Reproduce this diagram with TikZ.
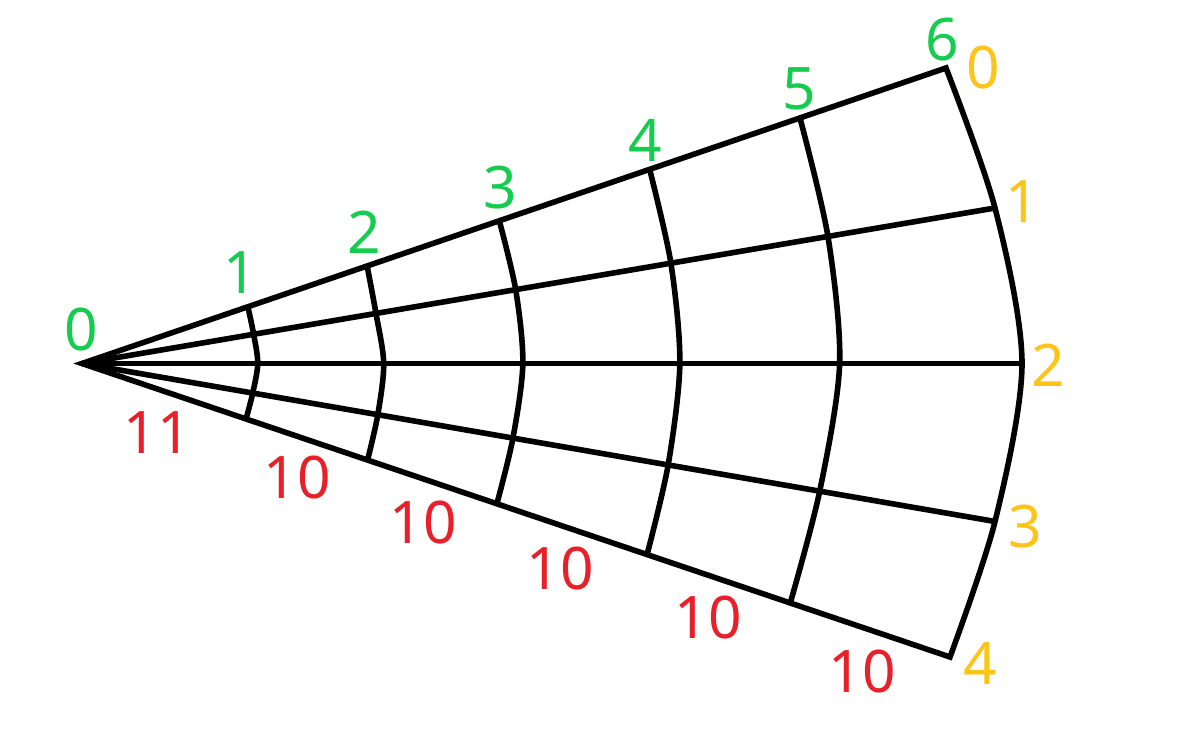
\documentclass[tikz,border=0pt]{standalone}
\usepackage{fontspec}
\setmainfont{Noto Sans}
\usetikzlibrary{calc}
\definecolor{lblgreen}{RGB}{20,204,78}
\definecolor{lblred}{RGB}{232,32,42}
\definecolor{lblyellow}{RGB}{255,196,24}
\begin{document}
\begin{tikzpicture}[x=0.75pt,y=-0.75pt,
  grid/.style={draw=black,line width=4.2pt},
  lbl/.style={font=\fontsize{44}{44}\selectfont,inner sep=0pt},
  gl/.style={lbl,text=lblgreen},
  rl/.style={lbl,text=lblred},
  yl/.style={lbl,text=lblyellow}]
\useasboundingbox (0,0) rectangle (1186,752);
\coordinate (O) at (82,363.5);
\coordinate (E0) at (946,68);
\coordinate (E1) at (995,208);
\coordinate (E2) at (1022,363.5);
\coordinate (E3) at (995,521.5);
\coordinate (E4) at (950,657);
% inner arcs: fractions along each of the five rays
\foreach \k/\fa/\fb/\fc/\fd/\fe in {1/0.192/0.188/0.187/0.187/0.189,
  2/0.330/0.322/0.321/0.324/0.329,
  3/0.483/0.475/0.469/0.472/0.478,
  4/0.657/0.645/0.636/0.642/0.651,
  5/0.831/0.817/0.806/0.808/0.816}{
  \coordinate (A\k0) at ($(O)!\fa!(E0)$);
  \coordinate (A\k1) at ($(O)!\fb!(E1)$);
  \coordinate (A\k2) at ($(O)!\fc!(E2)$);
  \coordinate (A\k3) at ($(O)!\fd!(E3)$);
  \coordinate (A\k4) at ($(O)!\fe!(E4)$);
  \draw[grid] plot[smooth] coordinates {(A\k0) (A\k1) (A\k2) (A\k3) (A\k4)};
}
% rays
\draw[grid] (O) -- (E1);
\draw[grid] (O) -- (E2);
\draw[grid] (O) -- (E3);
% outline
\draw[grid] (O) -- (E0) -- plot[smooth] coordinates {(E0) (E1) (E2) (E3) (E4)} -- cycle;
% green labels
\node[gl] (g0) at (81,330) {0};
\node[gl] (g1) at (240,273) {1};
\node[gl] (g2) at (364,232) {2};
\node[gl] (g3) at (500,188) {3};
\node[gl] (g4) at (645,140) {4};
\node[gl] (g5) at (799,89) {5};
\node[gl] (g6) at (942,40) {6};
% yellow labels
\node[yl] (y0) at (983,68) {0};
\node[yl] (y1) at (1022,202) {1};
\node[yl] (y2) at (1048,365) {2};
\node[yl] (y3) at (1025,527) {3};
\node[yl] (y4) at (980,663) {4};
% red labels
\node[rl] (r1) at (157,433) {11};
\node[rl] (r2) at (297,478) {10};
\node[rl] (r3) at (423,523) {10};
\node[rl] (r4) at (560,569) {10};
\node[rl] (r5) at (708,618) {10};
\node[rl] (r6) at (862,672) {10};
\end{tikzpicture}
\end{document}
